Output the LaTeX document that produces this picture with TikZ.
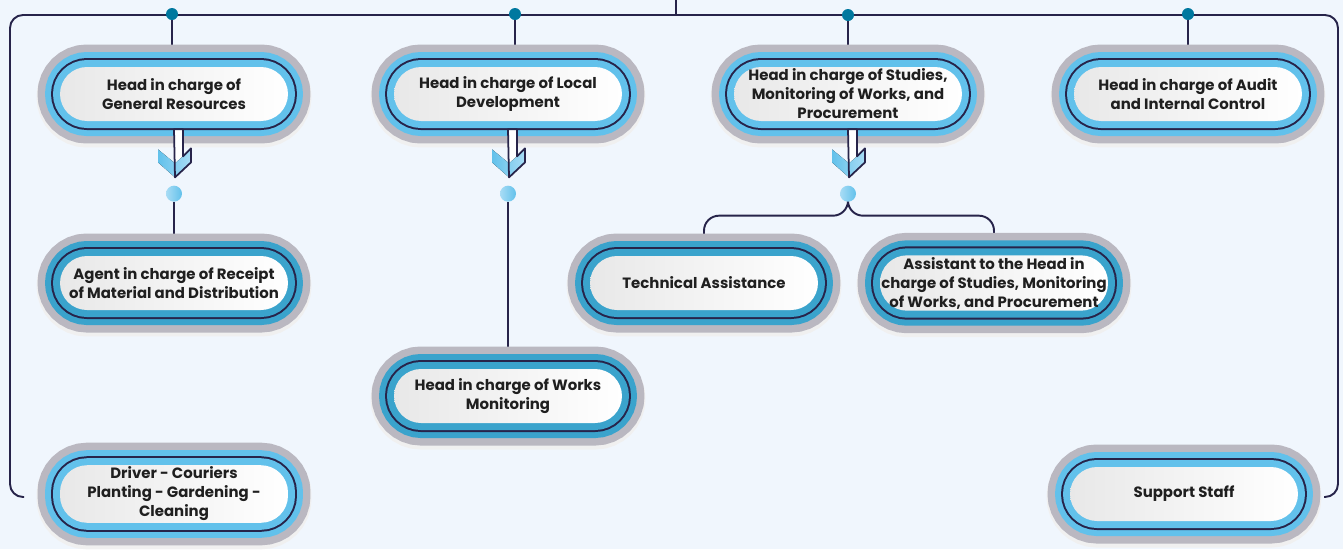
\documentclass[tikz,border=0pt]{standalone}
\usepackage{fontspec}
\setmainfont{Poppins}
\usetikzlibrary{positioning}

\definecolor{navy}{HTML}{27244A}
\definecolor{hubteal}{HTML}{00789F}
\definecolor{ringgray}{HTML}{BAB8C1}
\definecolor{ringblue}{HTML}{62C1EB}
\definecolor{ringdeep}{HTML}{3AA3CC}
\definecolor{paper}{HTML}{F0F6FD}
\definecolor{lightdot}{HTML}{A8DCF5}

\pgfdeclarelayer{back}
\pgfsetlayers{back,main}

\tikzset{
    pill/.style={rectangle, rounded corners=0.54cm,
        minimum width=4.56cm, minimum height=1.08cm,
        inner xsep=0pt, inner ysep=1pt, align=center, text=black!88,
        font=\fontsize{8.5}{10.8}\selectfont\bfseries,
        left color=black!9, right color=white,
        preaction={draw=black!6, line width=0.94cm, transform canvas={yshift=-0.06cm}},
        preaction={draw=ringgray, line width=0.9cm},
        preaction={draw=#1, line width=0.6cm},
        preaction={draw=navy, line width=0.36cm},
        preaction={draw=#1, line width=0.28cm}},
    headbox/.style={pill=ringblue},
    staffbox/.style={pill=ringdeep},
    link/.style={draw=navy, line width=1.1pt},
    hubdot/.style={circle, fill=hubteal, inner sep=0pt, minimum size=0.24cm},
    subdot/.style={circle, inner sep=0pt, minimum size=0.32cm,
        left color=lightdot, right color=ringblue},
}

\begin{document}
\begin{tikzpicture}[x=0.02cm, y=-0.02cm]
    \useasboundingbox (0,0) rectangle (1343,549);
    \begin{pgfonlayer}{back}
        \fill[paper] (0,0) rectangle (1343,549);
    \end{pgfonlayer}

    % heads
    \node[headbox] (gr) at (174,94) {Head in charge of\\General Resources};
    \node[headbox] (ld) at (508,94) {Head in charge of Local\\Development};
    \node[headbox] (sm) at (848,94) {Head in charge of Studies,\\Monitoring of Works, and\\Procurement};
    \node[headbox] (au) at (1188,94) {Head in charge of Audit\\and Internal Control};

    % staff
    \node[staffbox] (rc) at (174,283) {Agent in charge of Receipt\\of Material and Distribution};
    \node[staffbox] (ta) at (704,283) {Technical Assistance};
    \node[staffbox] (as) at (994,283) {Assistant to the Head in\\charge of Studies, Monitoring\\of Works, and Procurement};
    \node[staffbox] (wm) at (508,396) {Head in charge of Works\\Monitoring};
    \node[headbox] (drv) at (174,494) {Driver - Couriers\\Planting - Gardening -\\Cleaning};
    \node[headbox] (ss) at (1184,494) {Support Staff};

    % dots
    \node[hubdot] (t1) at (172,14) {};
    \node[hubdot] (t2) at (515,14) {};
    \node[hubdot] (t3) at (848,15) {};
    \node[hubdot] (t4) at (1188,14) {};
    \node[subdot, below=1.28cm of gr] (d1) {};
    \node[subdot, below=1.28cm of ld] (d2) {};
    \node[subdot, below=1.28cm of sm] (d3) {};

    \coordinate (top) at (676,0);
    \coordinate (fl) at (24,497);
    \coordinate (fr) at (1324,497);

    \begin{pgfonlayer}{back}
        \draw[link] (top) -- (676,15);
        \draw[link, rounded corners=0.26cm]
            (fl) -| (10,15) -| (1338,497) -- (fr);
        \draw[link] (t1) -- (t1 |- gr.north);
        \draw[link] (t2) -- (t2 |- ld.north);
        \draw[link] (t3) -- (t3 |- sm.north);
        \draw[link] (t4) -- (t4 |- au.north);
        \draw[link] (d1) -- (rc);
        \draw[link] (d2) -- (wm);
        \draw[link, rounded corners=0.3cm] (d3) -- ++(0,22) -| (ta);
        \draw[link, rounded corners=0.3cm] (d3) -- ++(0,22) -| (as);
    \end{pgfonlayer}

    % hollow arrows under the heads
    \foreach \h in {gr, ld, sm}{
        \begin{scope}[shift={(\h.south)}]
            \fill[white] (9,8) -- (0,8) -- (0,55) -- (17,40) -- (17,27) -- (9,35) -- cycle;
            \fill[left color=ringblue, right color=lightdot]
                (-16,28) -- (1,42) -- (17,28) -- (17,41) -- (1,56) -- (-16,41) -- cycle;
            \draw[navy, line width=1pt, line join=round]
                (9,8) -- (0,8) -- (1,56) -- (17,41) -- (17,27) -- (9,35) -- cycle;
        \end{scope}
    }
\end{tikzpicture}
\end{document}
